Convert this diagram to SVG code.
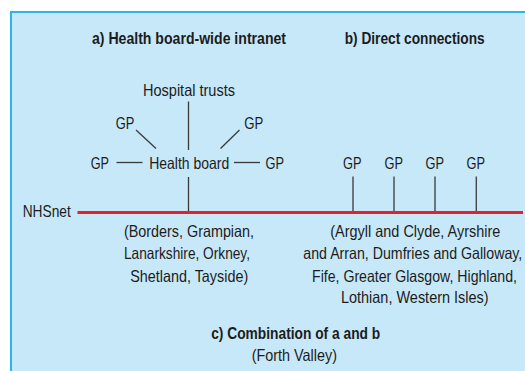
<svg xmlns="http://www.w3.org/2000/svg" width="525" height="371" viewBox="0 0 525 371">
  <style>
    text { font-family: "Liberation Sans", Arial, sans-serif; fill: #1c1c1c; text-anchor: middle; }
    .t { font-size: 16.5px; }
    .b { font-size: 16px; font-weight: bold; }
    .ln { stroke: #3a3a3a; stroke-width: 1.3; fill: none; }
  </style>
  <!-- panel -->
  <rect x="10" y="11" width="520" height="365" fill="#c7e8f8"/>
  <path d="M11,371 V12 H525" fill="none" stroke="#2fb3ea" stroke-width="2"/>

  <!-- section headings -->
  <g id="heading-a"><text class="b" x="189" y="44" textLength="194" lengthAdjust="spacingAndGlyphs">a) Health board-wide intranet</text></g>
  <g id="heading-b"><text class="b" x="414.7" y="44" textLength="140" lengthAdjust="spacingAndGlyphs">b) Direct connections</text></g>

  <!-- connectors -->
  <g id="connectors">
    <line class="ln" x1="188.5" y1="101.5" x2="188.5" y2="150"/>
    <line class="ln" x1="188.5" y1="177" x2="188.5" y2="211"/>
    <line class="ln" x1="136" y1="130" x2="156" y2="148.5"/>
    <line class="ln" x1="239.5" y1="130" x2="220.5" y2="148.5"/>
    <line class="ln" x1="116.5" y1="162.5" x2="142.5" y2="162.5"/>
    <line class="ln" x1="234" y1="162.5" x2="260" y2="162.5"/>
    <line class="ln" x1="353" y1="176.5" x2="353" y2="211"/>
    <line class="ln" x1="394" y1="176.5" x2="394" y2="211"/>
    <line class="ln" x1="435" y1="176.5" x2="435" y2="211"/>
    <line class="ln" x1="476.3" y1="176.5" x2="476.3" y2="211"/>
    <line x1="77.5" y1="212.5" x2="523" y2="212.5" stroke="#e3202b" stroke-width="3"/>
  </g>

  <!-- health board intranet -->
  <g id="hospital-trusts"><text class="t" x="189" y="95.5" textLength="92" lengthAdjust="spacingAndGlyphs">Hospital trusts</text></g>
  <g id="gp-a-upper-left"><text class="t" x="125" y="128.5" textLength="18.6" lengthAdjust="spacingAndGlyphs">GP</text></g>
  <g id="gp-a-upper-right"><text class="t" x="253.8" y="128.8" textLength="19" lengthAdjust="spacingAndGlyphs">GP</text></g>
  <g id="gp-a-left"><text class="t" x="99.9" y="169" textLength="18.3" lengthAdjust="spacingAndGlyphs">GP</text></g>
  <g id="health-board"><text class="t" x="189.2" y="169" textLength="80" lengthAdjust="spacingAndGlyphs">Health board</text></g>
  <g id="gp-a-right"><text class="t" x="274.8" y="169" textLength="18.5" lengthAdjust="spacingAndGlyphs">GP</text></g>

  <!-- direct connections -->
  <g id="gp-b-1"><text class="t" x="352.3" y="168.5" textLength="18.5" lengthAdjust="spacingAndGlyphs">GP</text></g>
  <g id="gp-b-2"><text class="t" x="393.7" y="168.5" textLength="18.5" lengthAdjust="spacingAndGlyphs">GP</text></g>
  <g id="gp-b-3"><text class="t" x="434.7" y="168.5" textLength="18.5" lengthAdjust="spacingAndGlyphs">GP</text></g>
  <g id="gp-b-4"><text class="t" x="475.7" y="168.5" textLength="18.5" lengthAdjust="spacingAndGlyphs">GP</text></g>

  <!-- backbone -->
  <g id="nhsnet"><text class="t" x="46.7" y="216.7" textLength="48" lengthAdjust="spacingAndGlyphs">NHSnet</text></g>

  <!-- regions -->
  <g id="regions-a">
    <text class="t" x="189" y="237.3" textLength="130" lengthAdjust="spacingAndGlyphs">(Borders, Grampian,</text>
    <text class="t" x="187" y="259.3" textLength="126" lengthAdjust="spacingAndGlyphs">Lanarkshire, Orkney,</text>
    <text class="t" x="189.2" y="281.5" textLength="118" lengthAdjust="spacingAndGlyphs">Shetland, Tayside)</text>
  </g>
  <g id="regions-b">
    <text class="t" x="415.3" y="237.3" textLength="170" lengthAdjust="spacingAndGlyphs">(Argyll and Clyde, Ayrshire</text>
    <text class="t" x="412.8" y="259.3" textLength="219" lengthAdjust="spacingAndGlyphs">and Arran, Dumfries and Galloway,</text>
    <text class="t" x="414.5" y="281.5" textLength="205" lengthAdjust="spacingAndGlyphs">Fife, Greater Glasgow, Highland,</text>
    <text class="t" x="414.8" y="303.4" textLength="147.7" lengthAdjust="spacingAndGlyphs">Lothian, Western Isles)</text>
  </g>

  <!-- combination -->
  <g id="heading-c">
    <text class="b" x="295.7" y="339" textLength="169" lengthAdjust="spacingAndGlyphs">c) Combination of a and b</text>
    <text class="t" x="294.3" y="361" textLength="85.3" lengthAdjust="spacingAndGlyphs">(Forth Valley)</text>
  </g>
</svg>
